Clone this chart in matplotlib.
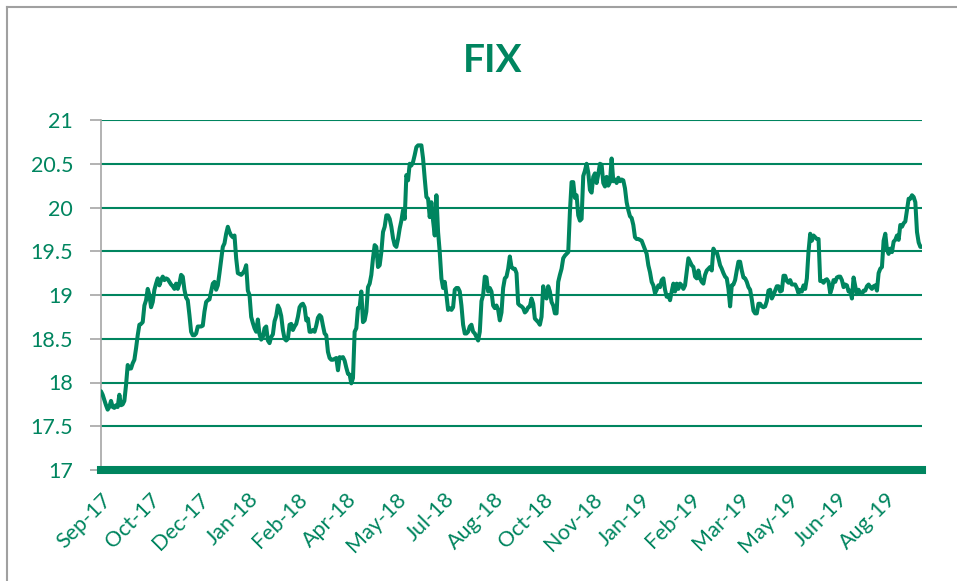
import numpy as np
import matplotlib.pyplot as plt
from matplotlib.lines import Line2D
import matplotlib.transforms as mtransforms

plt.rcParams['font.family'] = ['Lato', 'DejaVu Sans']

# FIX rate (roughly one value per trading day)
fix_values = [
    17.90, 17.86, 17.80, 17.74, 17.69, 17.72, 17.79, 17.72, 17.71, 17.74,
    17.72, 17.86, 17.74, 17.75, 17.79, 17.97, 18.20, 18.16, 18.16, 18.22,
    18.26, 18.39, 18.54, 18.66, 18.67, 18.69, 18.88, 18.94, 19.07, 19.00,
    18.86, 18.92, 19.06, 19.13, 19.19, 19.11, 19.17, 19.21, 19.17, 19.19,
    19.18, 19.15, 19.12, 19.10, 19.07, 19.13, 19.07, 19.13, 19.23, 19.21,
    19.06, 18.97, 18.94, 18.77, 18.58, 18.54, 18.54, 18.56, 18.64, 18.64,
    18.64, 18.65, 18.81, 18.92, 18.94, 18.95, 19.04, 19.13, 19.15, 19.06,
    19.11, 19.25, 19.40, 19.55, 19.59, 19.70, 19.78, 19.72, 19.68, 19.66,
    19.68, 19.42, 19.25, 19.24, 19.23, 19.25, 19.28, 19.34, 19.05, 19.00,
    18.75, 18.68, 18.62, 18.58, 18.72, 18.55, 18.49, 18.52, 18.62, 18.64,
    18.48, 18.45, 18.52, 18.55, 18.70, 18.76, 18.88, 18.84, 18.76, 18.60,
    18.50, 18.48, 18.50, 18.66, 18.67, 18.60, 18.64, 18.67, 18.75, 18.86,
    18.89, 18.90, 18.86, 18.71, 18.73, 18.58, 18.58, 18.60, 18.58, 18.65,
    18.74, 18.77, 18.75, 18.65, 18.56, 18.54, 18.35, 18.28, 18.26, 18.26,
    18.27, 18.28, 18.14, 18.29, 18.28, 18.29, 18.25, 18.17, 18.10, 18.09,
    17.99, 18.05, 18.58, 18.62, 18.85, 18.86, 19.04, 18.69, 18.71, 18.81,
    19.09, 19.13, 19.23, 19.42, 19.57,
    19.55, 19.32, 19.34, 19.49, 19.72, 19.78, 19.91, 19.91, 19.87, 19.78,
    19.65, 19.57, 19.55, 19.64, 19.76, 19.85, 19.97, 19.87, 20.37, 20.31,
    20.50, 20.48, 20.52, 20.60, 20.69, 20.71, 20.71, 20.71, 20.56, 20.33,
    20.12, 20.10, 19.89, 20.06, 19.85, 19.68, 20.14, 19.72, 19.49, 19.19,
    19.08, 19.15, 19.00, 18.83, 18.85, 18.83, 18.86, 19.06, 19.08, 19.08,
    19.04, 18.88, 18.66, 18.56, 18.56, 18.58, 18.64, 18.66, 18.58, 18.56,
    18.52, 18.48, 18.58, 18.93, 19.00, 19.21, 19.20, 19.04, 19.08, 19.04,
    18.88, 18.85, 18.88, 18.83, 18.71, 18.80, 19.08, 19.19, 19.21, 19.30,
    19.44, 19.32, 19.30, 19.30, 19.25, 18.90,
    18.88, 18.87, 18.85, 18.80, 18.82, 18.86, 18.87, 18.96, 18.90, 18.73,
    18.71, 18.69, 18.66, 18.75, 19.10, 18.98, 18.96, 19.10, 19.04, 18.92,
    18.88, 18.79, 18.79, 19.15, 19.23, 19.30, 19.42, 19.45, 19.47, 19.49,
    19.95, 20.29, 20.29, 20.11, 20.14, 19.91, 19.85, 19.87, 20.36, 20.42,
    20.50, 20.40, 20.20, 20.17, 20.35, 20.39, 20.28, 20.38, 20.50, 20.49,
    20.28, 20.24, 20.35, 20.25, 20.29, 20.56, 20.30, 20.32, 20.28, 20.34,
    20.30, 20.32, 20.31, 20.22, 20.06, 19.97, 19.90, 19.88, 19.80, 19.66,
    19.64, 19.64, 19.63, 19.62, 19.57, 19.52, 19.47, 19.34, 19.26, 19.15,
    19.11, 19.02, 19.06, 19.11,
    19.09, 19.17, 19.19, 19.06, 18.98, 19.00, 18.94, 19.04, 19.13, 19.04,
    19.13, 19.07, 19.13, 19.11, 19.07, 19.11, 19.26, 19.42, 19.38, 19.34,
    19.32, 19.21, 19.19, 19.28, 19.19, 19.15, 19.13, 19.23, 19.28, 19.30,
    19.32, 19.28, 19.53, 19.49, 19.49, 19.42, 19.34, 19.30, 19.25, 19.21,
    19.19, 19.07, 18.87, 19.11, 19.12, 19.17, 19.28, 19.38, 19.38, 19.28,
    19.20, 19.19, 19.15, 19.09, 19.06, 18.95, 18.82, 18.79, 18.79, 18.90,
    18.90, 18.87, 18.86, 18.87, 18.93, 19.05, 19.06, 18.96, 19.00, 19.05,
    19.10, 19.10, 19.04, 19.05, 19.22, 19.22, 19.16, 19.14, 19.17, 19.12,
    19.12, 19.12, 19.08, 19.02,
    19.06, 19.04, 19.11, 19.07, 19.19, 19.50, 19.70, 19.62, 19.68, 19.66,
    19.64, 19.64, 19.16, 19.16, 19.14, 19.17, 19.18, 19.15, 19.02, 19.08,
    19.17, 19.15, 19.20, 19.21, 19.21, 19.17, 19.09, 19.12, 19.11, 19.04,
    19.05, 18.96, 19.20, 19.10, 19.01, 19.06, 19.02, 19.01, 19.05, 19.05,
    19.10, 19.12, 19.09, 19.07, 19.10, 19.11, 19.05, 19.25, 19.30, 19.32,
    19.62, 19.70, 19.52, 19.47, 19.53, 19.49, 19.61, 19.63, 19.68, 19.63,
    19.80, 19.78, 19.82, 19.84, 19.97, 20.10, 20.10, 20.14, 20.12, 20.06,
    19.72, 19.60, 19.55, 19.55,
]

month_labels = ['Sep-17', 'Oct-17', 'Dec-17', 'Jan-18', 'Feb-18', 'Apr-18',
                'May-18', 'Jul-18', 'Aug-18', 'Oct-18', 'Nov-18', 'Jan-19',
                'Feb-19', 'Mar-19', 'May-19', 'Jun-19', 'Aug-19']

y_ticks = [17, 17.5, 18, 18.5, 19, 19.5, 20, 20.5, 21]

green = '#00855f'
grey = '#a6a6a6'
label_step = 29.4  # data points between category labels

fig = plt.figure(figsize=(9.57, 5.81), dpi=100)
ax = fig.add_axes([101 / 957, 1 - 470 / 581, 821 / 957, 350 / 581])

x = np.arange(len(fix_values))
ax.plot(x, fix_values, color=green, lw=2.9, solid_joinstyle='round',
        solid_capstyle='round', zorder=3)

ax.set_xlim(0, len(fix_values) - 1)
ax.set_ylim(17, 21)
ax.set_yticks(y_ticks)
ax.set_yticklabels([f'{v:g}' for v in y_ticks])
ax.grid(axis='y', color=green, lw=1.5)
ax.set_axisbelow(True)

ax.set_xticks(np.arange(len(month_labels)) * label_step)
ax.set_xticklabels(month_labels, rotation=45, ha='right', va='top',
                   rotation_mode='anchor')
shift = mtransforms.ScaledTranslation(4 / 100, 0, fig.dpi_scale_trans)
for lbl in ax.get_xticklabels():
    lbl.set_transform(lbl.get_transform() + shift)

for side in ['top', 'right']:
    ax.spines[side].set_visible(False)
ax.spines['left'].set_color(grey)
ax.spines['left'].set_linewidth(1.2)
ax.spines['bottom'].set_color(green)
ax.spines['bottom'].set_linewidth(5.8)
ax.spines['bottom'].set_zorder(4)

ax.tick_params(axis='y', length=8, width=1.2, color=grey, pad=12,
               labelcolor=green, labelsize=15.5)
ax.tick_params(axis='x', length=0, pad=14, labelcolor=green, labelsize=15.5)

fig.text(493 / 957, 1 - 60 / 581, 'FIX', ha='center', va='center',
         fontsize=28, fontweight='bold', color=green)

# outer chart frame (only top and left edges visible)
fig.add_artist(Line2D([7 / 957, 7 / 957], [0, 1 - 7 / 581],
                      transform=fig.transFigure, color='#a0a0a0', lw=1.5))
fig.add_artist(Line2D([7 / 957, 1], [1 - 7 / 581, 1 - 7 / 581],
                      transform=fig.transFigure, color='#a0a0a0', lw=1.5))

fig.savefig('out.png', dpi=100)
